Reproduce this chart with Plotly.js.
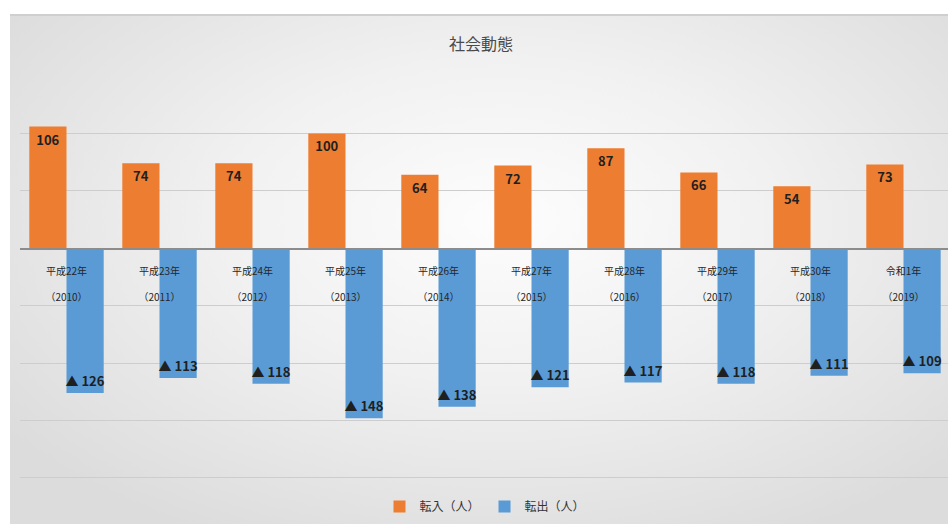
<!DOCTYPE html>
<html>
<head>
<meta charset="utf-8">
<script src="https://cdn.plot.ly/plotly-3.0.1.min.js"></script>
<style>
  html, body { margin: 0; padding: 0; width: 948px; height: 524px; overflow: hidden; background: #ffffff; }
  #frame {
    position: absolute; left: 10px; top: 14px; width: 942px; height: 510px; overflow: hidden;
    border-top: 2px solid #cfcfcf;
    background: radial-gradient(ellipse 65% 70% at 52% 40%, #fdfdfd 0%, #f1f1f1 45%, #dcdcdc 100%);
  }
  #chart { position: absolute; left: 0; top: -2px; width: 942px; height: 510px; }
</style>
</head>
<body>
<div id="frame"><div id="chart"></div></div>
<script>
// ---- data ----
const eras = ['平成22年', '平成23年', '平成24年', '平成25年', '平成26年', '平成27年', '平成28年', '平成29年', '平成30年', '令和1年'];
const years = ['2010', '2011', '2012', '2013', '2014', '2015', '2016', '2017', '2018', '2019'];
const moveIn = [106, 74, 74, 100, 64, 72, 87, 66, 54, 73];      // 転入（人）
const moveOut = [126, 113, 118, 148, 138, 121, 117, 118, 111, 109]; // 転出（人）
const seriesNames = ['転入（人）', '転出（人）'];
const chartTitle = '社会動態';

// ---- build ----
const cats = years.slice();
const tickText = eras.map((e, i) => e + '<br><br>（' + years[i] + '）');
const labelFont = { family: 'Noto Sans CJK JP, sans-serif', size: 13, color: '#1f1f1f', weight: 'bold' };

const traces = [
  {
    type: 'bar', name: seriesNames[0], x: cats, y: moveIn,
    marker: { color: '#ED7D31' },
    text: moveIn.map(String), textposition: 'inside', insidetextanchor: 'end', textangle: 0,
    constraintext: 'none', textfont: labelFont, cliponaxis: false, hoverinfo: 'none'
  },
  {
    type: 'bar', name: seriesNames[1], x: cats, y: moveOut.map(v => -v),
    marker: { color: '#5B9BD5' },
    text: moveOut.map(v => '▲ ' + v), textposition: 'inside', insidetextanchor: 'end', textangle: 0,
    constraintext: 'none', textfont: labelFont, cliponaxis: false, hoverinfo: 'none'
  }
];

const layout = {
  width: 942, height: 510,
  margin: { l: 10, r: 2, t: 62, b: 45 },
  paper_bgcolor: 'rgba(0,0,0,0)', plot_bgcolor: 'rgba(0,0,0,0)',
  font: { family: 'Noto Sans CJK JP, sans-serif', color: '#404040' },
  title: {
    text: chartTitle, x: 0.5, xanchor: 'center', y: 0.94, yanchor: 'middle',
    font: { size: 16, color: '#4a4a4a', family: 'Noto Sans CJK JP, sans-serif' }
  },
  barmode: 'group', bargap: 0.2, bargroupgap: 0,
  xaxis: {
    type: 'category', anchor: 'free', position: 200 / 351,
    tickmode: 'array', tickvals: cats, ticktext: tickText,
    tickfont: { size: 10, color: '#262626' }, ticks: '', ticklabelstandoff: 13,
    showline: true, linecolor: '#8c8c8c', linewidth: 2, showgrid: false, zeroline: false
  },
  yaxis: {
    range: [-201, 150], tickmode: 'array', tickvals: [-200, -150, -100, -50, 0, 50, 100, 150],
    showticklabels: false, ticks: '',
    showgrid: true, gridcolor: '#cdcdcd', gridwidth: 1, zeroline: false, showline: false
  },
  showlegend: true,
  legend: {
    orientation: 'h', x: 0.5, xanchor: 'center', y: -0.068, yanchor: 'middle',
    font: { size: 12, color: '#333333' }, bgcolor: 'rgba(0,0,0,0)',
    itemwidth: 30, traceorder: 'normal'
  }
};

Plotly.newPlot('chart', traces, layout, { displayModeBar: false, staticPlot: true });
</script>
</body>
</html>
